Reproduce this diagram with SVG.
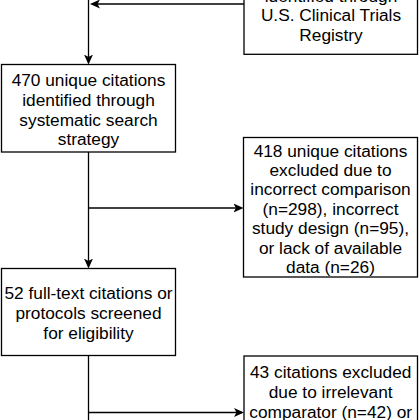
<svg xmlns="http://www.w3.org/2000/svg" width="420" height="420" viewBox="0 0 420 420">
  <style>
    .box { fill: #ffffff; stroke: #000000; stroke-width: 1.3; }
    .edge { fill: none; stroke: #000000; stroke-width: 1.3; }
    .lbl { font-family: "Liberation Sans", Arial, Helvetica, sans-serif; font-size: 17.3px; fill: #000000; text-anchor: middle; }
  </style>
  <defs>
    <marker id="arr" viewBox="0 0 10 10" refX="8" refY="5" markerWidth="10" markerHeight="10" markerUnits="userSpaceOnUse" orient="auto">
      <path d="M0,0.5 L10,5 L0,9.5 L2.5,5 Z" fill="#000000"/>
    </marker>
  </defs>
  <rect width="420" height="420" fill="#ffffff"/>

  <g id="connectors">
    <path class="edge" d="M244,4 L92,4" marker-end="url(#arr)"/>
    <path class="edge" d="M88.5,-2 L88.5,62.5" marker-end="url(#arr)"/>
    <path class="edge" d="M88.5,152 L88.5,266.5" marker-end="url(#arr)"/>
    <path class="edge" d="M88.5,208 L241.5,208" marker-end="url(#arr)"/>
    <path class="edge" d="M88.5,355.5 L88.5,422"/>
    <path class="edge" d="M88.5,412.5 L242,412.5" marker-end="url(#arr)"/>
  </g>

  <g id="node-registry">
    <rect class="box" x="244" y="-20" width="173.5" height="74.3"/>
    <text class="lbl" x="331" y="1.5">identified through</text>
    <text class="lbl" x="331" y="21">U.S. Clinical Trials</text>
    <text class="lbl" x="331" y="40.5">Registry</text>
  </g>

  <g id="node-unique">
    <rect class="box" x="1.5" y="64.5" width="174" height="87.5"/>
    <text class="lbl" x="88.5" y="86">470 unique citations</text>
    <text class="lbl" x="88.5" y="105.8">identified through</text>
    <text class="lbl" x="88.5" y="125.6">systematic search</text>
    <text class="lbl" x="88.5" y="145.4">strategy</text>
  </g>

  <g id="node-excluded1">
    <rect class="box" x="243.5" y="137.5" width="174" height="139.5"/>
    <text class="lbl" x="330.5" y="156.7">418 unique citations</text>
    <text class="lbl" x="330.5" y="176">excluded due to</text>
    <text class="lbl" x="330.5" y="195.4">incorrect comparison</text>
    <text class="lbl" x="330.5" y="214.8">(n=298), incorrect</text>
    <text class="lbl" x="330.5" y="234.2">study design (n=95),</text>
    <text class="lbl" x="330.5" y="253.5">or lack of available</text>
    <text class="lbl" x="330.5" y="272.9">data (n=26)</text>
  </g>

  <g id="node-fulltext">
    <rect class="box" x="1.5" y="268.5" width="174" height="87"/>
    <text class="lbl" x="88.5" y="299.3">52 full-text citations or</text>
    <text class="lbl" x="88.5" y="319.2">protocols screened</text>
    <text class="lbl" x="88.5" y="339">for eligibility</text>
  </g>

  <g id="node-excluded2">
    <rect class="box" x="244" y="356" width="173.5" height="90"/>
    <text class="lbl" x="330.7" y="378.3">43 citations excluded</text>
    <text class="lbl" x="330.7" y="398.2">due to irrelevant</text>
    <text class="lbl" x="330.7" y="418">comparator (n=42) or</text>
  </g>
</svg>
